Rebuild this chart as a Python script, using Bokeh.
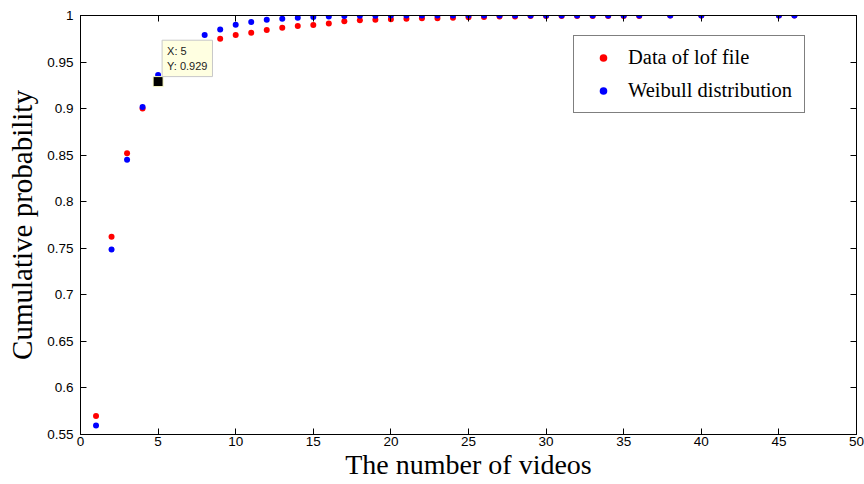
from bokeh.plotting import figure
from bokeh.models import (ColumnDataSource, Range1d, FixedTicker, LinearAxis, Label,
                          Legend, LegendItem)
from bokeh.embed import file_html
from bokeh.resources import INLINE

# ---- data ----
lof_x = [1, 2, 3, 4, 5, 9, 10, 11, 12, 13, 14, 15, 16, 17, 18, 19, 20, 21, 22, 23, 24, 25,
         26, 27, 28, 29, 30, 31, 32, 33, 34, 35, 36, 38, 40, 45, 46]
lof_y = [0.570, 0.7625, 0.852, 0.900, 0.929, 0.975, 0.979, 0.9815, 0.9845, 0.9869, 0.9886,
         0.9897, 0.9914, 0.9939, 0.9950, 0.9955, 0.9960, 0.9965, 0.9970, 0.9970, 0.9975,
         0.9980, 0.9985, 0.9990, 0.9990, 0.9995, 0.9995, 0.9995, 0.9995, 0.9995, 0.9995,
         0.9995, 0.9995, 1.0, 1.0, 1.0, 1.0]
weib_x = [1, 2, 3, 4, 5, 8, 9, 10, 11, 12, 13, 14, 15, 16, 17, 18, 19, 20, 21, 22, 23, 24,
          25, 26, 27, 28, 29, 30, 31, 32, 33, 34, 35, 36, 38, 40, 45, 46]
weib_y = [0.5597, 0.7486, 0.845, 0.9017, 0.936, 0.979, 0.985, 0.990, 0.993, 0.9954, 0.9965,
          0.9976, 0.9985, 0.9990, 0.9995, 0.9997, 0.9998, 0.9999, 1.0, 1.0, 1.0, 1.0, 1.0,
          1.0, 1.0, 1.0, 1.0, 1.0, 1.0, 1.0, 1.0, 1.0, 1.0, 1.0, 1.0, 1.0, 1.0, 1.0]
tip_x = 5
tip_y = 0.929

x_ticks = [0, 5, 10, 15, 20, 25, 30, 35, 40, 45, 50]
y_ticks = [0.55, 0.6, 0.65, 0.7, 0.75, 0.8, 0.85, 0.9, 0.95, 1.0]
y_tick_labels = ["0.55", "0.6", "0.65", "0.7", "0.75", "0.8", "0.85", "0.9", "0.95", "1"]

x_title = "The number of videos"
y_title = "Cumulative probability"
series_names = ["Data of lof file", "Weibull distribution"]

# ---- figure ----
p = figure(frame_width=776, frame_height=419, output_backend="svg", toolbar_location=None,
           x_range=Range1d(0, 50), y_range=Range1d(0.55, 1.0),
           min_border_left=80, min_border_right=8, min_border_top=15, min_border_bottom=50,
           x_axis_location=None, y_axis_location=None)
p.background_fill_color = "white"
p.border_fill_color = "white"
p.outline_line_color = "black"
p.outline_line_width = 1
p.xgrid.visible = False
p.ygrid.visible = False

TICK_FONT = "Liberation Sans"
SERIF = "Liberation Serif"

def style_axis(ax, labels=True):
    ax.axis_line_color = "black"
    ax.major_tick_line_color = "black"
    ax.major_tick_in = 6
    ax.major_tick_out = 0
    ax.minor_tick_line_color = None
    ax.major_label_text_font = TICK_FONT
    ax.major_label_text_color = "black"
    ax.axis_label_text_font = SERIF
    ax.axis_label_text_font_style = "normal"
    ax.axis_label_text_color = "black"
    if labels:
        ax.major_label_text_font_size = "13.5px"
    else:
        ax.major_label_text_font_size = "0px"
        ax.major_label_standoff = 0

xb = LinearAxis(ticker=FixedTicker(ticks=x_ticks), axis_label=x_title)
style_axis(xb)
xb.major_label_standoff = 2
xb.axis_label_standoff = 0
xb.axis_label_text_font_size = "28px"
p.add_layout(xb, "below")

yl = LinearAxis(ticker=FixedTicker(ticks=y_ticks), axis_label=y_title)
style_axis(yl)
yl.major_label_standoff = 7
yl.axis_label_standoff = 6
yl.axis_label_text_font_size = "29px"
yl.major_label_overrides = {t: s for t, s in zip(y_ticks, y_tick_labels)}
p.add_layout(yl, "left")

xa = LinearAxis(ticker=FixedTicker(ticks=x_ticks))
style_axis(xa, labels=False)
p.add_layout(xa, "above")

yr = LinearAxis(ticker=FixedTicker(ticks=y_ticks))
style_axis(yr, labels=False)
p.add_layout(yr, "right")

# ---- data points ----
src_lof = ColumnDataSource(dict(x=lof_x, y=lof_y))
src_weib = ColumnDataSource(dict(x=weib_x, y=weib_y))
r_lof = p.scatter("x", "y", source=src_lof, size=6, fill_color="#ff0000", line_color=None)
r_weib = p.scatter("x", "y", source=src_weib, size=6, fill_color="#0000ff", line_color=None)

# ---- data tip ----
p.scatter([tip_x], [tip_y], marker="square", size=10, fill_color="black",
          line_color="#ffffc8", line_width=1)
tip = Label(x=tip_x, y=tip_y, text=f"X: {tip_x}\nY: {tip_y}", x_offset=4, y_offset=5,
            text_align="left", text_baseline="bottom", text_font=TICK_FONT,
            text_font_size="11px", text_color="#222222", text_line_height=1.2,
            background_fill_color="#ffffe1", border_line_color="#c8c8c8",
            border_line_width=1, padding=5)
p.add_layout(tip)

# ---- legend ----
legend = Legend(items=[LegendItem(label=series_names[0], renderers=[r_lof]),
                       LegendItem(label=series_names[1], renderers=[r_weib])],
                location=(493, 321), orientation="vertical")
legend.border_line_color = "black"
legend.border_line_width = 1
legend.background_fill_color = "white"
legend.background_fill_alpha = 1
legend.padding = 10
legend.margin = 0
legend.spacing = 10
legend.glyph_width = 38
legend.glyph_height = 19
legend.label_height = 19
legend.label_width = 166
legend.label_standoff = 6
legend.label_text_font = SERIF
legend.label_text_font_size = "20.5px"
legend.label_text_color = "black"
p.add_layout(legend, "center")

open("out.html", "w").write(file_html(p, INLINE))
